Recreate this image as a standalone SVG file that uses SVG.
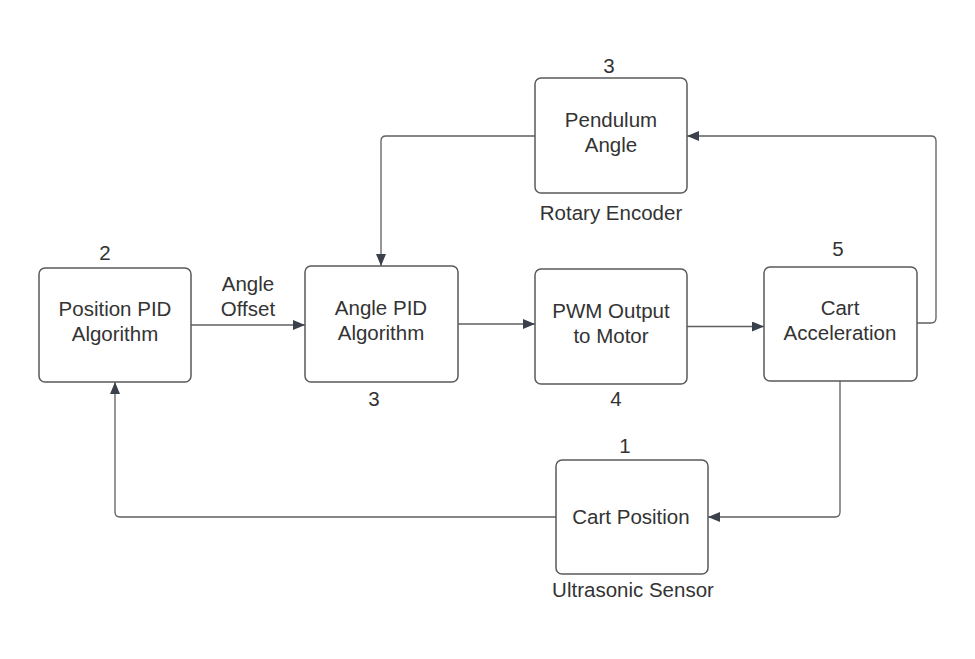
<svg xmlns="http://www.w3.org/2000/svg" width="975" height="659" viewBox="0 0 975 659">
<style>
.box{fill:#fff;stroke:#5a5a5a;stroke-width:1.5}
.t{font-family:"Liberation Sans",Arial,sans-serif;font-size:20.5px;fill:#333;text-anchor:middle}
.c{fill:none;stroke:#5f5f5f;stroke-width:1.3;stroke-linejoin:round}
</style>
<defs>
<marker id="ah" viewBox="0 0 12 10" refX="12" refY="5" markerWidth="12" markerHeight="10" markerUnits="userSpaceOnUse" orient="auto">
<path d="M0,0 L12,5 L0,10 Z" fill="#3a414a"/>
</marker>
</defs>
<rect width="975" height="659" fill="#fff"/>
<g id="connectors">
<path class="c" d="M191,325 H305" marker-end="url(#ah)"/>
<path class="c" d="M458,324 H535" marker-end="url(#ah)"/>
<path class="c" d="M687,326.5 H764" marker-end="url(#ah)"/>
<path class="c" d="M917,323 H931 Q936,323 936,318 V141 Q936,136 931,136 H687" marker-end="url(#ah)"/>
<path class="c" d="M535,136 H386 Q381,136 381,141 V266" marker-end="url(#ah)"/>
<path class="c" d="M840,381 V512 Q840,517 835,517 H708" marker-end="url(#ah)"/>
<path class="c" d="M556,517 H120 Q115,517 115,512 V382" marker-end="url(#ah)"/>
<text class="t" x="248" y="291">Angle</text>
<text class="t" x="248" y="316">Offset</text>
</g>
<g id="position-pid">
<rect class="box" x="39" y="268" width="152" height="114" rx="6"/>
<text class="t" x="115" y="316">Position PID</text>
<text class="t" x="115" y="341">Algorithm</text>
<text class="t" x="105" y="260">2</text>
</g>
<g id="angle-pid">
<rect class="box" x="305" y="266" width="153" height="116" rx="6"/>
<text class="t" x="381" y="315">Angle PID</text>
<text class="t" x="381" y="340">Algorithm</text>
<text class="t" x="374" y="406">3</text>
</g>
<g id="pwm-output">
<rect class="box" x="535" y="269" width="152" height="115" rx="6"/>
<text class="t" x="611" y="318">PWM Output</text>
<text class="t" x="611" y="343">to Motor</text>
<text class="t" x="616" y="406">4</text>
</g>
<g id="cart-acceleration">
<rect class="box" x="764" y="267" width="153" height="114" rx="6"/>
<text class="t" x="840" y="315">Cart</text>
<text class="t" x="840" y="340">Acceleration</text>
<text class="t" x="838" y="256">5</text>
</g>
<g id="pendulum-angle">
<rect class="box" x="535" y="78" width="152" height="115" rx="6"/>
<text class="t" x="611" y="127">Pendulum</text>
<text class="t" x="611" y="152">Angle</text>
<text class="t" x="609" y="73">3</text>
<text class="t" x="611" y="220">Rotary Encoder</text>
</g>
<g id="cart-position">
<rect class="box" x="556" y="460" width="152" height="114" rx="6"/>
<text class="t" x="631" y="524">Cart Position</text>
<text class="t" x="625" y="453">1</text>
<text class="t" x="633" y="597">Ultrasonic Sensor</text>
</g>
</svg>
